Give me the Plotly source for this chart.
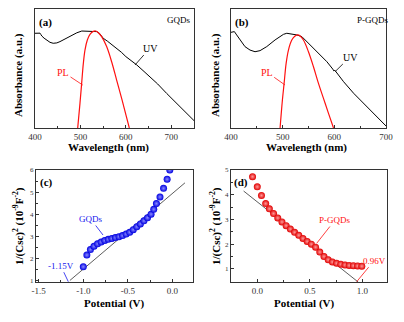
import plotly.graph_objects as go

W, H = 404, 322
FONT = "Liberation Serif"

# ---------------- data ----------------
uv_a_nm = [400, 405, 409, 411, 413, 415, 420, 426, 433, 440, 448, 455, 462, 470, 477, 484, 492, 503, 515, 525, 536, 542, 550, 560, 570, 580, 590, 600, 612, 624, 640, 653, 670, 690, 710, 730, 750]
uv_a_val = [0.796, 0.797, 0.80, 0.797, 0.785, 0.773, 0.755, 0.735, 0.72, 0.712, 0.715, 0.726, 0.74, 0.754, 0.77, 0.787, 0.80, 0.815, 0.815, 0.812, 0.81, 0.795, 0.755, 0.728, 0.70, 0.67, 0.637, 0.60, 0.565, 0.53, 0.475, 0.432, 0.37, 0.29, 0.215, 0.14, 0.062]
pl_a_nm = [494, 499, 502.7, 506.4, 510, 515.2, 521, 528.4, 533.5, 539.4, 546.7, 557.7, 568.7, 579.7, 590.7, 600.3, 607.6]
pl_a_val = [0.0, 0.207, 0.375, 0.543, 0.655, 0.739, 0.787, 0.812, 0.815, 0.801, 0.768, 0.684, 0.557, 0.403, 0.249, 0.109, 0.0]

uv_b_nm = [400, 406.5, 411, 417.5, 427, 436.8, 446.5, 456.2, 469.2, 485.3, 501.5, 508, 527.4, 537.1, 546.8, 566.2, 585.6, 597, 599, 601, 617.9, 637.3, 663.1, 682.5, 700]
uv_b_val = [0.804, 0.81, 0.782, 0.74, 0.684, 0.655, 0.641, 0.65, 0.684, 0.74, 0.787, 0.796, 0.782, 0.768, 0.726, 0.641, 0.557, 0.495, 0.48, 0.485, 0.389, 0.292, 0.18, 0.095, 0.017]
pl_b_nm = [495, 499.5, 502.8, 506.7, 511.2, 517.7, 524.1, 529.3, 533.8, 540.2, 549.9, 559.6, 569.3, 579, 588.7, 598.4]
pl_b_val = [0.0, 0.235, 0.375, 0.543, 0.655, 0.739, 0.773, 0.782, 0.773, 0.739, 0.641, 0.515, 0.375, 0.249, 0.123, 0.0]

pot_c = [-1.00, -0.96, -0.92, -0.88, -0.84, -0.80, -0.76, -0.72, -0.68, -0.64, -0.60, -0.56, -0.52, -0.48, -0.44, -0.40, -0.36, -0.32, -0.28, -0.24, -0.21, -0.18, -0.14, -0.10, -0.06, -0.03]
inv_c = [1.62, 2.15, 2.40, 2.55, 2.66, 2.74, 2.81, 2.86, 2.90, 2.94, 2.98, 3.03, 3.10, 3.18, 3.30, 3.43, 3.56, 3.70, 3.84, 4.00, 4.22, 4.48, 4.78, 5.17, 5.58, 6.0]
fit_c_x = [-1.15, 0.14]
fit_c_y = [1.0, 5.42]

pot_d = [-0.045, 0.0, 0.04, 0.08, 0.115, 0.155, 0.195, 0.235, 0.275, 0.315, 0.355, 0.395, 0.435, 0.475, 0.515, 0.555, 0.595, 0.635, 0.675, 0.715, 0.755, 0.795, 0.835, 0.875, 0.915, 0.955, 0.995]
inv_d = [4.73, 4.32, 3.97, 3.64, 3.43, 3.24, 3.06, 2.90, 2.75, 2.61, 2.48, 2.36, 2.23, 2.11, 2.00, 1.88, 1.68, 1.50, 1.37, 1.28, 1.23, 1.19, 1.16, 1.14, 1.13, 1.12, 1.11]
fit_d_x = [-0.13, 0.96]
fit_d_y = [4.15, 0.47]

# ---------------- figure ----------------
def px(x, y):
    return x / W, 1 - y / H

fig = go.Figure()
fig.add_trace(go.Scatter(x=uv_a_nm, y=uv_a_val, mode="lines", line=dict(color="black", width=1), xaxis="x", yaxis="y"))
fig.add_trace(go.Scatter(x=pl_a_nm, y=pl_a_val, mode="lines", line=dict(color="#ff1010", width=1.2, shape="spline"), xaxis="x", yaxis="y"))
fig.add_trace(go.Scatter(x=uv_b_nm, y=uv_b_val, mode="lines", line=dict(color="black", width=1), xaxis="x2", yaxis="y2"))
fig.add_trace(go.Scatter(x=pl_b_nm, y=pl_b_val, mode="lines", line=dict(color="#ff1010", width=1.2, shape="spline"), xaxis="x2", yaxis="y2"))

fig.add_trace(go.Scatter(x=fit_c_x, y=fit_c_y, mode="lines", line=dict(color="#333", width=0.8), xaxis="x3", yaxis="y3"))
fig.add_trace(go.Scatter(x=pot_c, y=inv_c, mode="markers", xaxis="x3", yaxis="y3",
                         marker=dict(size=7, color="#0000e0", line=dict(width=0),
                                     gradient=dict(type="radial", color="#8a8aff"))))
fig.add_trace(go.Scatter(x=fit_d_x, y=fit_d_y, mode="lines", line=dict(color="#333", width=0.8), xaxis="x4", yaxis="y4"))
fig.add_trace(go.Scatter(x=pot_d, y=inv_d, mode="markers", xaxis="x4", yaxis="y4",
                         marker=dict(size=7, color="#e00000", line=dict(width=0),
                                     gradient=dict(type="radial", color="#ff9a9a"))))

tickfont = dict(family=FONT, size=9, color="#333")
ytickfont = dict(family=FONT, size=7, color="#333")
base_ax = dict(showline=True, linecolor="#333", linewidth=1, mirror=True, showgrid=False,
               zeroline=False, ticks="inside", ticklen=3, tickcolor="#333", automargin=False)

def xdom(a, b):
    return [a / W, b / W]

def ydom(top, bottom):
    return [1 - bottom / H, 1 - top / H]

fig.update_layout(
    width=W, height=H, margin=dict(l=0, r=0, t=0, b=0),
    paper_bgcolor="white", plot_bgcolor="white", showlegend=False,
    xaxis=dict(base_ax, domain=xdom(35, 194), range=[400, 750], anchor="y", dtick=100, tickfont=tickfont,
               minor=dict(ticks="inside", ticklen=2, dtick=50, tickcolor="#333")),
    yaxis=dict(base_ax, domain=ydom(9, 128), range=[0, 1], anchor="x", ticks="", showticklabels=False),
    xaxis2=dict(base_ax, domain=xdom(231, 386), range=[400, 700], anchor="y2", dtick=100, tickfont=tickfont,
                minor=dict(ticks="inside", ticklen=2, dtick=50, tickcolor="#333")),
    yaxis2=dict(base_ax, domain=ydom(9, 128), range=[0, 1], anchor="x2", ticks="", showticklabels=False),
    xaxis3=dict(base_ax, domain=xdom(36, 193), range=[-1.53, 0.23], anchor="y3", tickvals=[-1.5, -1.0, -0.5, 0.0],
                ticktext=["-1.5", "-1.0", "-0.5", "0.0"], tickfont=tickfont,
                minor=dict(ticks="inside", ticklen=2, tickvals=[-1.25, -0.75, -0.25], tickcolor="#333")),
    yaxis3=dict(base_ax, domain=ydom(170, 282), range=[0.93, 6], anchor="x3", dtick=1, tickfont=ytickfont,
                minor=dict(ticks="inside", ticklen=2, dtick=0.5, tickcolor="#333")),
    xaxis4=dict(base_ax, domain=xdom(231, 386.5), range=[-0.25, 1.23], anchor="y4", tickvals=[0.0, 0.5, 1.0],
                ticktext=["0.0", "0.5", "1.0"], tickfont=tickfont,
                minor=dict(ticks="inside", ticklen=2, tickvals=[-0.25, 0.25, 0.75], tickcolor="#333")),
    yaxis4=dict(base_ax, domain=ydom(170, 282), range=[0.47, 5], anchor="x4", dtick=1, tickfont=ytickfont,
                minor=dict(ticks="inside", ticklen=2, dtick=0.5, tickcolor="#333")),
)

ann = []

def text(x, y, s, size=10, color="black", bold=False, angle=0, xanchor="center"):
    X, Y = px(x, y)
    ann.append(dict(x=X, y=Y, xref="paper", yref="paper", text=s, showarrow=False, textangle=angle,
                    xanchor=xanchor, yanchor="middle",
                    font=dict(family=FONT, size=size, color=color, weight="bold" if bold else "normal")))

def pointer(tx, ty, s, tipx, tipy, size=10, color="black"):
    X, Y = px(tipx, tipy)
    ann.append(dict(x=X, y=Y, xref="paper", yref="paper", text=s, showarrow=True, arrowhead=0,
                    arrowwidth=0.8, arrowcolor=color, ax=tx - tipx, ay=ty - tipy,
                    font=dict(family=FONT, size=size, color=color)))

# axis titles
text(18, 75, "Absorbance (a.u.)", size=11, bold=True, angle=-90)
text(108, 147, "Wavelength (nm)", size=11, bold=True)
text(215, 75, "Absorbance (a.u.)", size=11, bold=True, angle=-90)
text(306, 147, "Wavelength (nm)", size=11, bold=True)
text(18, 226, "1/(Csc)<sup>2</sup> (10<sup>-9</sup>F<sup>-2</sup>)", size=11, bold=True, angle=-90)
text(115, 303, "Potential (V)", size=11, bold=True)
text(215, 226, "1/(Csc)<sup>2</sup> (10<sup>-9</sup>F<sup>-2</sup>)", size=11, bold=True, angle=-90)
text(304, 303, "Potential (V)", size=11, bold=True)

# panel letters and sample names
text(37, 22, "(a)", size=11, bold=True, xanchor="left")
text(233, 22, "(b)", size=11, bold=True, xanchor="left")
text(38, 182, "(c)", size=11, bold=True, xanchor="left")
text(232, 182, "(d)", size=11, bold=True, xanchor="left")
text(178, 20, "GQDs", size=9)
text(373, 20, "P-GQDs", size=9)

pointer(63, 72, "PL", 82.7, 85, color="#ff1010")
pointer(150, 48, "UV", 135, 65)
pointer(266.7, 72, "PL", 285, 85, color="#ff1010")
pointer(350, 57, "UV", 335, 71.7)
pointer(90.7, 219, "GQDs", 103, 235, size=9, color="#1515ee")
pointer(60.7, 265.7, "-1.15V", 68.3, 281.7, size=9, color="#1515ee")
pointer(335, 220, "P-GQDs", 316.7, 243.3, size=9, color="#ff1010")
pointer(374, 260.7, "0.96V", 356.7, 281.7, size=9, color="#ff1010")

fig.update_layout(annotations=ann)
fig.write_html("out.html")
